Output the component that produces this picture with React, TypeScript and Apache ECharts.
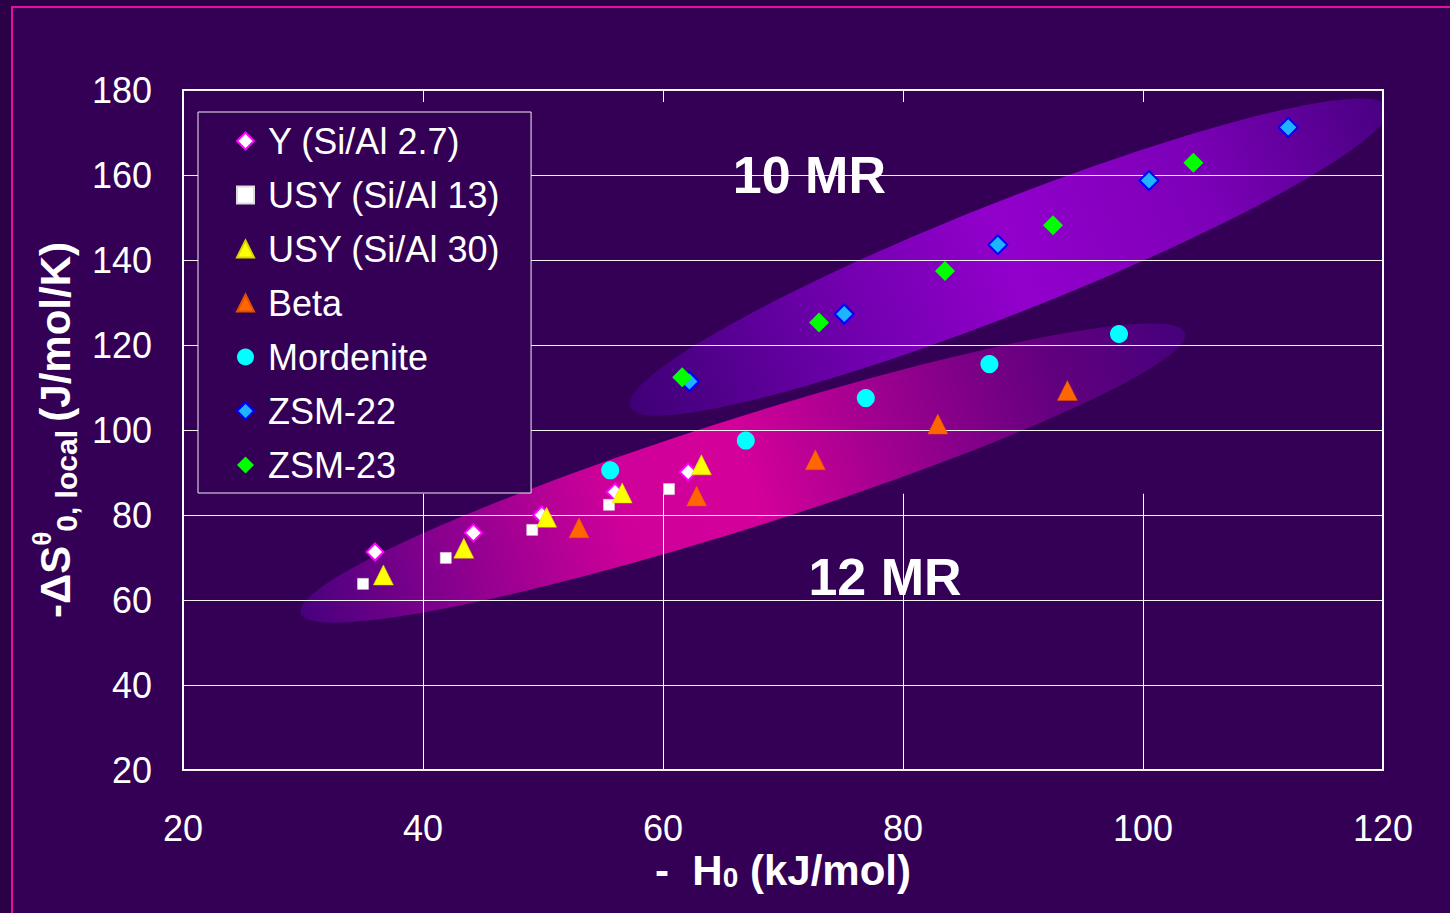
import React, { useEffect, useRef } from 'react';
import * as echarts from 'echarts';

// Series names, in legend order
const seriesNames = [
  'Y (Si/Al 2.7)',
  'USY (Si/Al 13)',
  'USY (Si/Al 30)',
  'Beta',
  'Mordenite',
  'ZSM-22',
  'ZSM-23',
];

// [-ΔH0 (kJ/mol), -ΔS0,local (J/mol/K)]
const yFau27 = [[36.0, 71.3], [44.2, 75.8], [49.9, 80.0], [56.0, 85.4], [62.1, 90.1]];
const usy13 = [[35.0, 63.8], [41.9, 69.9], [49.1, 76.5], [55.5, 82.4], [60.5, 86.1]];
const usy30 = [[36.7, 65.9], [43.4, 72.2], [50.3, 79.5], [56.6, 85.2], [63.2, 91.8]];
const beta = [[53.0, 77.0], [62.8, 84.5], [72.7, 93.0], [82.9, 101.4], [93.7, 109.3]];
const mordenite = [[55.6, 90.5], [66.9, 97.5], [76.9, 107.5], [87.2, 115.5], [98.0, 122.6]];
const zsm22 = [[62.2, 111.4], [75.1, 127.3], [87.9, 143.6], [100.5, 158.7], [112.1, 171.2]];
const zsm23 = [[61.6, 112.4], [73.0, 125.3], [83.5, 137.4], [92.5, 148.2], [104.2, 162.9]];

// Axis ranges and ticks
const xMin = 20;
const xMax = 120;
const xStep = 20;
const yMin = 20;
const yMax = 180;
const yStep = 20;
const innerXTicks = [40, 60, 80, 100];
const gridLineTop = 85;

// Pore-size regions: ends of the long axis (data units) and width / length ratio
const regionEllipses = [
  [29.8, 56.9, 103.5, 122.8, 0.118],
  [57.25, 105.4, 120.4, 176.0, 0.136],
];
const regionLabels = [
  { name: '12 MR', value: [78.5, 65.4] },
  { name: '10 MR', value: [72.2, 160.0] },
];

const FONT = '"Liberation Sans", Arial, sans-serif';
const BG = '#330055';
const WHITE = '#ffffff';

const ellipseStops = [
  [
    { offset: 0, color: '#47007e' },
    { offset: 0.17, color: '#8a008f' },
    { offset: 0.36, color: '#cf009a' },
    { offset: 0.5, color: '#d5009a' },
    { offset: 0.68, color: '#98008e' },
    { offset: 0.85, color: '#62007f' },
    { offset: 1, color: '#46007c' },
  ],
  [
    { offset: 0, color: '#3e0076' },
    { offset: 0.25, color: '#6a00a8' },
    { offset: 0.5, color: '#9300cc' },
    { offset: 0.75, color: '#7d00b8' },
    { offset: 1, color: '#480082' },
  ],
];

export default function App() {
  const ref = useRef<HTMLDivElement>(null);

  useEffect(() => {
    document.body.style.margin = '0';
    document.body.style.background = '#2b0047';
    if (!ref.current) return;
    const chart = echarts.init(ref.current, undefined, { renderer: 'svg' });

    const scatterBase = {
      type: 'scatter' as const,
      z: 4,
      animation: false,
      emphasis: { disabled: true },
    };

    const option: any = {
      animation: false,
      backgroundColor: '#2b0047',
      textStyle: { fontFamily: FONT },
      graphic: [
        {
          type: 'rect',
          z: -10,
          silent: true,
          shape: { x: 12, y: 7, width: 1460, height: 930 },
          style: { fill: BG, stroke: '#e4109c', lineWidth: 2 },
        },
      ],
      grid: {
        left: 183,
        top: 90,
        width: 1200,
        height: 680,
        show: true,
        backgroundColor: 'transparent',
        borderColor: WHITE,
        borderWidth: 2,
        z: 3,
      },
      legend: {
        data: seriesNames,
        orient: 'vertical',
        left: 198,
        top: 112,
        padding: [9, 31, 8, 38],
        itemWidth: 17,
        itemHeight: 17,
        itemGap: 14,
        backgroundColor: BG,
        borderColor: '#f0f0f0',
        borderWidth: 1,
        selectedMode: false,
        z: 6,
        textStyle: {
          color: WHITE,
          fontSize: 36,
          fontFamily: FONT,
          lineHeight: 40,
          padding: [0, 0, 0, 9],
        },
      },
      xAxis: [
        {
          type: 'value',
          min: xMin,
          max: xMax,
          interval: xStep,
          z: 3,
          axisLine: { show: false },
          axisTick: { show: false },
          splitLine: { show: false },
          axisLabel: { color: WHITE, fontSize: 36, fontFamily: FONT, margin: 44, lineHeight: 28 },
          name: '{m|-  H}{sub|0}{m| (kJ/mol)}',
          nameLocation: 'middle',
          nameGap: 79,
          nameMoveOverlap: false,
          nameTextStyle: {
            color: WHITE,
            rich: {
              m: { fontSize: 42, fontWeight: 'bold', fontFamily: FONT, color: WHITE, lineHeight: 42 },
              sub: {
                fontSize: 28,
                fontWeight: 'bold',
                fontFamily: FONT,
                color: WHITE,
                lineHeight: 20,
                verticalAlign: 'bottom',
              },
            },
          },
        },
        {
          type: 'value',
          position: 'top',
          min: xMin,
          max: xMax,
          interval: xStep,
          z: 3,
          axisLine: { show: false },
          axisTick: { show: true, inside: true, length: 12, lineStyle: { color: WHITE, width: 1 } },
          axisLabel: { show: false },
          splitLine: { show: false },
        },
      ],
      yAxis: {
        type: 'value',
        min: yMin,
        max: yMax,
        interval: yStep,
        z: 3,
        axisLine: { show: false },
        axisTick: { show: false },
        splitLine: { show: true, lineStyle: { color: '#f2f2f2', width: 1 } },
        axisLabel: { color: WHITE, fontSize: 36, fontFamily: FONT, margin: 31 },
        name: '{m|-ΔS}{sup|θ}{sub|0, local }{m|(J/mol/K)}',
        nameLocation: 'middle',
        nameRotate: 90,
        nameGap: 90,
        nameTextStyle: {
          color: WHITE,
          rich: {
            m: { fontSize: 42, fontWeight: 'bold', fontFamily: FONT, color: WHITE, lineHeight: 52 },
            sup: {
              fontSize: 26,
              fontWeight: 'bold',
              fontFamily: FONT,
              color: WHITE,
              lineHeight: 26,
              verticalAlign: 'top',
            },
            sub: {
              fontSize: 30,
              fontWeight: 'bold',
              fontFamily: FONT,
              color: WHITE,
              lineHeight: 30,
              verticalAlign: 'bottom',
            },
          },
        },
      },
      series: [
        {
          type: 'custom',
          name: 'regions',
          z: 2,
          clip: true,
          silent: true,
          encode: { x: [0, 2], y: [1, 3] },
          data: regionEllipses,
          renderItem: (params: any, api: any) => {
            const p1 = api.coord([api.value(0), api.value(1)]);
            const p2 = api.coord([api.value(2), api.value(3)]);
            const dx = p2[0] - p1[0];
            const dy = p2[1] - p1[1];
            const a = Math.hypot(dx, dy) / 2;
            const b = a * api.value(4);
            return {
              type: 'ellipse',
              x: (p1[0] + p2[0]) / 2,
              y: (p1[1] + p2[1]) / 2,
              rotation: Math.atan2(-dy, dx),
              shape: { cx: 0, cy: 0, rx: a, ry: b },
              style: {
                fill: new echarts.graphic.LinearGradient(0, 0, 1, 0, ellipseStops[params.dataIndex]),
              },
            };
          },
        },
        {
          ...scatterBase,
          name: seriesNames[0],
          data: yFau27,
          symbol: 'diamond',
          symbolSize: 17,
          itemStyle: { color: WHITE, borderColor: '#ff00ff', borderWidth: 2, opacity: 1 },
          markLine: {
            silent: true,
            symbol: ['none', 'none'],
            label: { show: false },
            lineStyle: { color: WHITE, width: 1, type: 'solid', opacity: 1 },
            data: innerXTicks.map((x) => [{ coord: [x, gridLineTop] }, { coord: [x, yMin] }]),
          },
        },
        {
          ...scatterBase,
          name: seriesNames[1],
          data: usy13,
          symbol: 'rect',
          symbolSize: 11,
          itemStyle: { color: WHITE, borderColor: '#dddddd', borderWidth: 0.5, opacity: 1 },
        },
        {
          ...scatterBase,
          name: seriesNames[2],
          data: usy30,
          symbol: 'triangle',
          symbolSize: 20,
          itemStyle: { color: '#ffff00', borderColor: '#d8d800', borderWidth: 0.5, opacity: 1 },
        },
        {
          ...scatterBase,
          name: seriesNames[3],
          data: beta,
          symbol: 'triangle',
          symbolSize: 20,
          itemStyle: { color: '#ff6600', borderColor: '#e05000', borderWidth: 0.5, opacity: 1 },
        },
        {
          ...scatterBase,
          name: seriesNames[4],
          data: mordenite,
          symbol: 'circle',
          symbolSize: 18,
          itemStyle: { color: '#00ffff', opacity: 1 },
        },
        {
          ...scatterBase,
          name: seriesNames[5],
          data: zsm22,
          symbol: 'diamond',
          symbolSize: 19,
          itemStyle: { color: '#1fb4ff', borderColor: '#0000ff', borderWidth: 2, opacity: 1 },
        },
        {
          ...scatterBase,
          name: seriesNames[6],
          data: zsm23,
          symbol: 'diamond',
          symbolSize: 20,
          itemStyle: { color: '#00ff00', opacity: 1 },
        },
        {
          type: 'scatter',
          name: 'region labels',
          z: 5,
          silent: true,
          symbolSize: 1,
          itemStyle: { color: 'rgba(0,0,0,0)', opacity: 1 },
          data: regionLabels,
          label: {
            show: true,
            position: 'inside',
            formatter: '{b}',
            color: WHITE,
            opacity: 1,
            fontSize: 52,
            fontWeight: 'bold',
            fontFamily: FONT,
          },
        },
      ],
    };

    chart.setOption(option);
    return () => chart.dispose();
  }, []);

  return <div ref={ref} style={{ width: 1450, height: 913 }} />;
}
